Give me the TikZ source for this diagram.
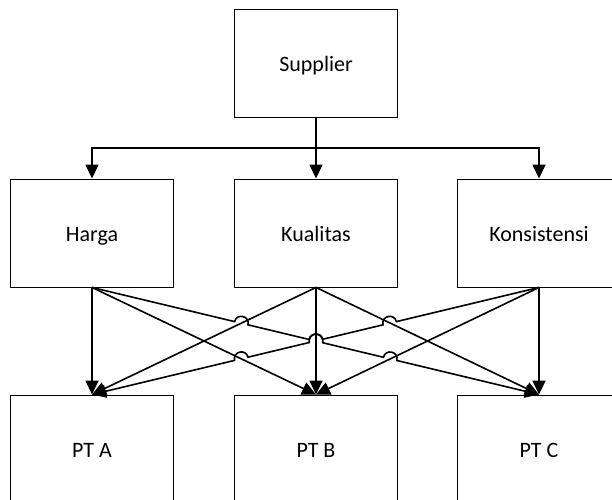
\documentclass[tikz,border=0pt]{standalone}
\usepackage{fontspec}
\setmainfont{Carlito}
\usetikzlibrary{arrows.meta,calc}

\tikzset{
    box/.style={draw, line width=0.9pt, minimum width=163pt, minimum height=108pt,
        text height=17pt, text depth=0pt, font=\fontsize{22}{26}\selectfont},
    arr/.style={line width=1.6pt, -{Triangle[length=14pt,width=13pt]}},
    hopl/.style={bend left=90, looseness=1.7},
    hopr/.style={bend right=90, looseness=1.7},
}

\begin{document}
\begin{tikzpicture}[x=1pt,y=1pt]
    \useasboundingbox (0,0) rectangle (612,499);
    % source
    \node[box] (supplier) at (316,435.5) {Supplier};
    % criteria
    \node[box] (harga) at (92,266) {Harga};
    \node[box] (kualitas) at (316,266) {Kualitas};
    \node[box] (konsistensi) at (539,266) {Konsistensi};
    % companies
    \node[box] (pta) at (92,50) {PT A};
    \node[box] (ptb) at (316,50) {PT B};
    \node[box] (ptc) at (539,50) {PT C};
    % supplier to criteria
    \coordinate (split) at (316,351);
    \draw[arr] (supplier.south) -- (kualitas.north);
    \draw[arr] (split) -| (harga.north);
    \draw[arr] (split) -| (konsistensi.north);
    % criteria to companies
    \foreach \src/\dst in {harga/pta, harga/ptb, kualitas/pta, kualitas/ptb,
        kualitas/ptc, konsistensi/ptb, konsistensi/ptc}
        \draw[arr] (\src.south) -- (\dst.north);
    \draw[arr] (harga.south) -- ($(harga.south)!0.319!(ptc.north)$)
        to[hopl] ($(harga.south)!0.349!(ptc.north)$)
        -- ($(harga.south)!0.486!(ptc.north)$)
        to[hopl] ($(harga.south)!0.516!(ptc.north)$)
        -- ($(harga.south)!0.652!(ptc.north)$)
        to[hopl] ($(harga.south)!0.682!(ptc.north)$) -- (ptc.north);
    \draw[arr] (konsistensi.south) -- ($(konsistensi.south)!0.319!(pta.north)$)
        to[hopr] ($(konsistensi.south)!0.349!(pta.north)$)
        -- ($(konsistensi.south)!0.484!(pta.north)$)
        to[hopr] ($(konsistensi.south)!0.514!(pta.north)$)
        -- ($(konsistensi.south)!0.651!(pta.north)$)
        to[hopr] ($(konsistensi.south)!0.681!(pta.north)$) -- (pta.north);
\end{tikzpicture}
\end{document}
